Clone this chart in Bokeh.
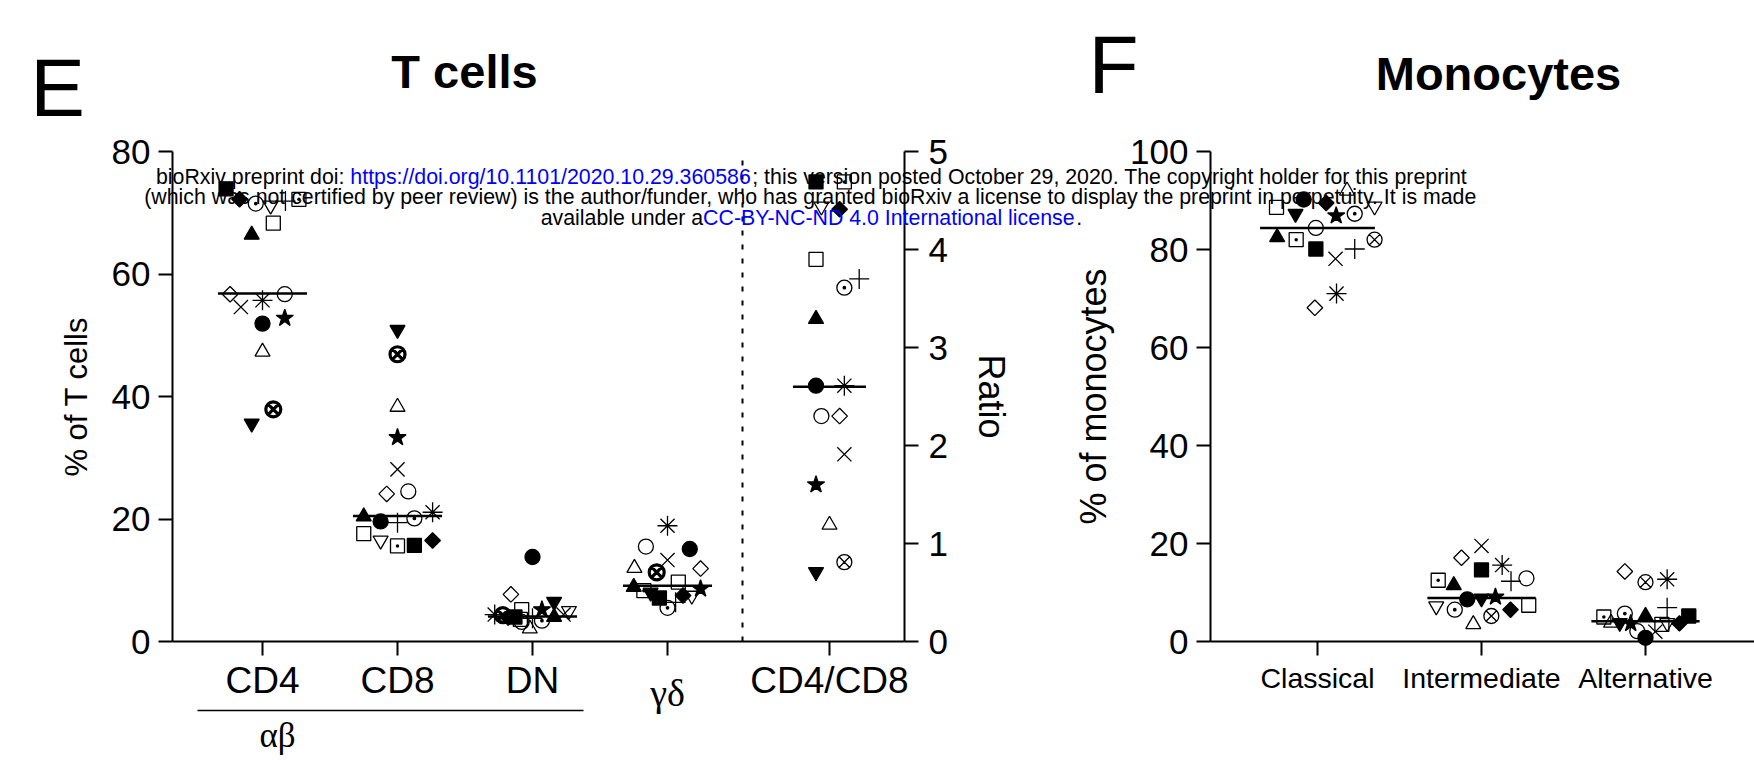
import math
from bokeh.plotting import figure
from bokeh.models import Range1d, LinearAxis, FixedTicker, Label
from bokeh.embed import file_html
from bokeh.resources import INLINE

# ---------------- data ----------------
# 17 donors, each with its own symbol
donor_markers = ["square", "diamond", "circle_dot", "inverted_triangle", "cross", "square_dot",
                 "square", "triangle", "diamond", "x", "asterisk", "circle", "circle", "star",
                 "triangle", "inverted_triangle", "circle_x"]
donor_filled = [True, True, False, False, False, False, False, True, False, False, False,
                False, True, True, False, True, False]

tcell_labels = ["CD4", "CD8", "DN", "γδ"]
cd4 = [73.9, 72.2, 71.5, 71.2, 71.9, 72.2, 68.3, 66.4, 56.7, 54.6, 55.7, 56.7, 51.9, 52.8, 47.3, 35.6, 37.9]
cd8 = [15.7, 16.5, 20.1, 16.5, 19.4, 15.6, 17.6, 20.4, 24.1, 28.1, 21.1, 24.5, 19.6, 33.3, 38.3, 50.9, 46.9]
dn = [4.0, 3.9, 3.4, 5.0, 3.8, 3.6, 5.2, 4.0, 7.7, 4.4, 4.4, 3.2, 13.8, 5.2, 2.1, 6.5, 4.3]
gd = [7.1, 7.5, 5.5, 7.5, 6.4, 8.3, 9.7, 8.9, 11.9, 13.3, 18.9, 15.5, 15.1, 8.6, 12.0, 8.0, 11.3]
tcell_medians = [56.8, 20.5, 4.1, 9.1]

ratio_label = "CD4/CD8"
cd4_cd8_ratio = [4.69, 4.41, 3.61, 4.44, 3.70, 4.69, 3.90, 3.29, 2.30, 1.91, 2.61, 2.30, 2.61, 1.60, 1.19, 0.71, 0.81]
ratio_median = [2.6]

mono_labels = ["Classical", "Intermediate", "Alternative"]
classical = [80.1, 89.5, 87.3, 88.8, 80.1, 82.0, 88.6, 82.5, 68.1, 78.1, 71.0, 84.4, 90.2, 86.9, 92.0, 87.3, 82.0]
intermediate = [14.6, 6.5, 6.5, 7.2, 12.3, 12.5, 7.4, 11.5, 17.1, 19.5, 15.6, 12.9, 8.6, 9.1, 3.5, 8.8, 5.2]
alternative = [5.2, 3.7, 5.7, 3.8, 6.9, 5.0, 3.5, 5.2, 14.3, 2.0, 12.7, 2.1, 0.75, 3.7, 3.8, 3.8, 12.1]
mono_medians = [84.4, 8.9, 4.15]

# horizontal scatter offsets (category units) of each donor's symbol, as laid out in the figure
cd4_jit = [-0.27, -0.17, -0.05, 0.06, 0.17, 0.27, 0.08, -0.08, -0.24, -0.16, 0.0, 0.165, 0.0, 0.165, 0.0, -0.08, 0.08]
cd8_jit = [0.125, 0.26, 0.125, -0.125, 0.0, 0.0, -0.25, -0.25, -0.08, 0.0, 0.26, 0.08, -0.125, 0.0, 0.0, 0.0, 0.0]
dn_jit = [-0.13, -0.18, 0.07, 0.27, 0.0, -0.09, -0.08, 0.16, -0.16, 0.23, -0.28, -0.08, 0.0, 0.07, -0.02, 0.16, -0.22]
gd_jit = [-0.06, 0.115, 0.0, 0.18, 0.06, -0.175, 0.08, -0.25, 0.245, 0.0, 0.0, -0.16, 0.165, 0.245, -0.245, -0.125, -0.08]
ratio_jit = [-0.10, 0.075, 0.11, -0.06, 0.22, 0.11, -0.10, -0.10, 0.075, 0.11, 0.11, -0.06, -0.10, -0.10, 0.0, -0.10, 0.11]
cla_jit = [-0.01, 0.053, 0.227, 0.348, 0.227, -0.13, -0.25, -0.246, -0.016, 0.11, 0.116, -0.01, -0.084, 0.114, 0.18, -0.134, 0.348]
int_jit = [0.0, 0.177, -0.163, -0.276, 0.18, -0.264, 0.288, -0.169, -0.122, 0.0, 0.126, 0.274, -0.087, 0.085, -0.05, 0.0, 0.06]
alt_jit = [0.264, 0.207, -0.126, 0.132, 0.132, -0.254, 0.1, 0.0, -0.126, 0.06, 0.132, -0.05, 0.0, -0.09, -0.21, -0.157, 0.0]

watermark = [
    [("bioRxiv preprint doi: ", "black"), ("https://doi.org/10.1101/2020.10.29.360586", "blue"),
     ("; this version posted October 29, 2020. The copyright holder for this preprint", "black")],
    [("(which was not certified by peer review) is the author/funder, who has granted bioRxiv a license to display the preprint in perpetuity. It is made", "black")],
    [("available under a", "black"), ("CC-BY-NC-ND 4.0 International license", "blue"), (".", "black")],
]

# ---------------- layout constants (page pixels) ----------------
FONT = "Liberation Sans"
SERIF = "Liberation Serif"
W, H = 1754, 760
F_TOP, F_BOT = 151, 641           # panel top / baseline
L_LEFT, L_RIGHT = 172, 904        # T cell panel
L_C0, L_STEP = 262, 135           # first category px, spacing
R_LEFT, R_RIGHT = 1210, 1754      # monocyte panel
R_C0, R_STEP = 1317, 164
PANEL_H = F_BOT - F_TOP

# marker styles: (bokeh marker, size, angle)
MSTYLE = {"square": ("square", 14, 0), "diamond": ("square", 11, math.pi / 4),
          "circle_dot": ("circle_dot", 15, 0), "inverted_triangle": ("inverted_triangle", 15, 0),
          "cross": ("cross", 20, 0), "square_dot": ("square_dot", 14, 0),
          "triangle": ("triangle", 15, 0), "x": ("x", 20, 0), "asterisk": ("asterisk", 20, 0),
          "circle": ("circle", 15, 0), "star": ("star", 18, 0), "circle_x": ("circle_x", 15, 0)}


def cat_range(c0, step):
    return Range1d((0 - c0) / step, (W - c0) / step)


def val_range(vmax):
    ppu = PANEL_H / vmax
    return Range1d((F_BOT - H) / ppu, F_BOT / ppu)


# one canvas, default ranges = page pixels (y downwards); data drawn through extra ranges
p = figure(width=W, height=H, x_range=Range1d(0, W), y_range=Range1d(H, 0),
           output_backend="svg", toolbar_location=None,
           x_axis_location=None, y_axis_location=None, min_border=0)
p.outline_line_color = None
p.xgrid.visible = False
p.ygrid.visible = False
p.extra_x_ranges = {"tcell": cat_range(L_C0, L_STEP), "mono": cat_range(R_C0, R_STEP)}
p.extra_y_ranges = {"tpct": val_range(80), "ratio": val_range(5), "mpct": val_range(100)}


def style_axis(ax, size, standoff):
    ax.axis_line_width = 2
    ax.axis_line_color = "black"
    ax.major_tick_line_width = 2
    ax.major_tick_line_color = "black"
    ax.major_tick_out = 14
    ax.major_tick_in = 0
    ax.minor_tick_out = 0
    ax.minor_tick_in = 0
    ax.major_label_text_font = FONT
    ax.major_label_text_font_size = size
    ax.major_label_text_color = "black"
    ax.major_label_standoff = standoff
    ax.axis_label_text_font = FONT
    ax.axis_label_text_font_style = "normal"
    ax.axis_label_text_color = "black"


ratio_x = 4.2
lb0 = (L_LEFT - L_C0) / L_STEP
lb1 = (L_RIGHT - L_C0) / L_STEP
rb0 = (R_LEFT - R_C0) / R_STEP
rb1 = (R_RIGHT - R_C0) / R_STEP

# T cells axes
ax_tx = LinearAxis(x_range_name="tcell", fixed_location=F_BOT, bounds=(lb0, lb1),
                   ticker=FixedTicker(ticks=[0, 1, 2, 3, ratio_x]))
ax_tx.major_label_overrides = {0: tcell_labels[0], 1: tcell_labels[1], 2: tcell_labels[2],
                               3: " ", ratio_x: ratio_label}
style_axis(ax_tx, "37px", 4)
p.add_layout(ax_tx, "below")

ax_ty = LinearAxis(y_range_name="tpct", fixed_location=L_LEFT, bounds=(0, 80),
                   ticker=FixedTicker(ticks=[0, 20, 40, 60, 80]), axis_label="% of T cells")
style_axis(ax_ty, "35px", 8)
ax_ty.axis_label_text_font_size = "31px"
ax_ty.axis_label_standoff = 15
p.add_layout(ax_ty, "left")

ax_r = LinearAxis(y_range_name="ratio", fixed_location=L_RIGHT, bounds=(0, 5),
                  ticker=FixedTicker(ticks=[0, 1, 2, 3, 4, 5]), axis_label="Ratio")
style_axis(ax_r, "35px", 10)
ax_r.axis_label_text_font_size = "36px"
ax_r.axis_label_standoff = 20
p.add_layout(ax_r, "right")

# Monocyte axes
ax_mx = LinearAxis(x_range_name="mono", fixed_location=F_BOT, bounds=(rb0, rb1),
                   ticker=FixedTicker(ticks=[0, 1, 2]))
ax_mx.major_label_overrides = {0: mono_labels[0], 1: mono_labels[1], 2: mono_labels[2]}
style_axis(ax_mx, "28.5px", 6)
p.add_layout(ax_mx, "below")

ax_my = LinearAxis(y_range_name="mpct", fixed_location=R_LEFT, bounds=(0, 100),
                   ticker=FixedTicker(ticks=[0, 20, 40, 60, 80, 100]), axis_label="% of monocytes")
style_axis(ax_my, "35px", 8)
ax_my.axis_label_text_font_size = "36px"
ax_my.axis_label_standoff = 13
p.add_layout(ax_my, "left")


def draw_donors(cat_x, jits, vals, xr, yr, bold_x):
    for i, m in enumerate(donor_markers):
        mk, sz, ang = MSTYLE[m]
        xs = [c + j[i] for c, j in zip(cat_x, jits)]
        ys = [v[i] for v in vals]
        lw = 3.2 if (m == "circle_x" and bold_x) else 1.3
        p.scatter(x=xs, y=ys, marker=mk, size=sz, angle=ang, line_color="black", line_width=lw,
                  fill_color="black" if donor_filled[i] else None,
                  x_range_name=xr, y_range_name=yr)


# separator between % panels and the ratio
sep_x = (742 - L_C0) / L_STEP
p.segment(x0=[sep_x], x1=[sep_x], y0=[0], y1=[80], line_color="black", line_width=2,
          line_dash="5 9", x_range_name="tcell", y_range_name="tpct")

cats = [0, 1, 2, 3]
p.segment(x0=[c - 0.33 for c in cats], x1=[c + 0.33 for c in cats], y0=tcell_medians,
          y1=tcell_medians, line_color="black", line_width=2.5,
          x_range_name="tcell", y_range_name="tpct")
p.segment(x0=[ratio_x - 0.27], x1=[ratio_x + 0.27], y0=ratio_median, y1=ratio_median,
          line_color="black", line_width=2.5, x_range_name="tcell", y_range_name="ratio")
draw_donors(cats, [cd4_jit, cd8_jit, dn_jit, gd_jit], [cd4, cd8, dn, gd], "tcell", "tpct", True)
draw_donors([ratio_x], [ratio_jit], [cd4_cd8_ratio], "tcell", "ratio", False)

mcats = [0, 1, 2]
mhw = [0.35, 0.33, 0.33]
p.segment(x0=[c - h for c, h in zip(mcats, mhw)], x1=[c + h for c, h in zip(mcats, mhw)],
          y0=mono_medians, y1=mono_medians, line_color="black", line_width=2.5,
          x_range_name="mono", y_range_name="mpct")
draw_donors(mcats, [cla_jit, int_jit, alt_jit], [classical, intermediate, alternative],
            "mono", "mpct", False)


def add_text(gx, gy, text, size, font=FONT, style="normal", align="left", color="black"):
    p.add_layout(Label(x=gx, y=gy, text=text, text_font=font, text_font_size=size,
                       text_font_style=style, text_align=align, text_baseline="alphabetic",
                       text_color=color))


# αβ group bracket and greek labels
p.segment(x0=[197], x1=[583], y0=[710], y1=[710], line_color="black", line_width=1.5)
add_text(277, 735, "αβ", "35px", font=SERIF, align="center")
add_text(667, 692, tcell_labels[3], "38px", font=SERIF, align="center")

# panel letters and titles
add_text(57, 87, "E", "82px", align="center")
add_text(464, 71, "T cells", "47px", style="bold", align="center")
add_text(1113, 64, "F", "82px", align="center")
add_text(1498, 73, "Monocytes", "47px", style="bold", align="center")

# ---------------- preprint watermark ----------------
AW = {' ': 278, '(': 333, ')': 333, ',': 278, '-': 333, '.': 278, '/': 278, ':': 278, ';': 278}
AW.update({d: 556 for d in "0123456789"})
AW.update(dict(zip("ABCDEFGHIJKLMNOPQRSTUVWXYZ",
                   [667, 667, 722, 722, 667, 611, 778, 722, 278, 500, 667, 556, 833, 722, 778, 667,
                    778, 722, 667, 611, 722, 667, 944, 667, 667, 611])))
AW.update(dict(zip("abcdefghijklmnopqrstuvwxyz",
                   [556, 556, 500, 556, 556, 278, 556, 556, 222, 222, 500, 222, 833, 556, 556, 556,
                    556, 333, 500, 278, 556, 500, 722, 500, 500, 500])))


def em(s):
    return sum(AW.get(ch, 556) for ch in s) / 1000.0


wm_size = 1311 / em("".join(t for t, _ in watermark[0]))
wm_center = 811
for line, base in zip(watermark, [176, 196.5, 217]):
    total = sum(em(t) for t, _ in line) * wm_size
    x = wm_center - total / 2
    for t, col in line:
        add_text(x, base, t, "%.2fpx" % wm_size, color="#0000ff" if col == "blue" else "black")
        x += em(t) * wm_size

open("out.html", "w").write(file_html(p, INLINE))
